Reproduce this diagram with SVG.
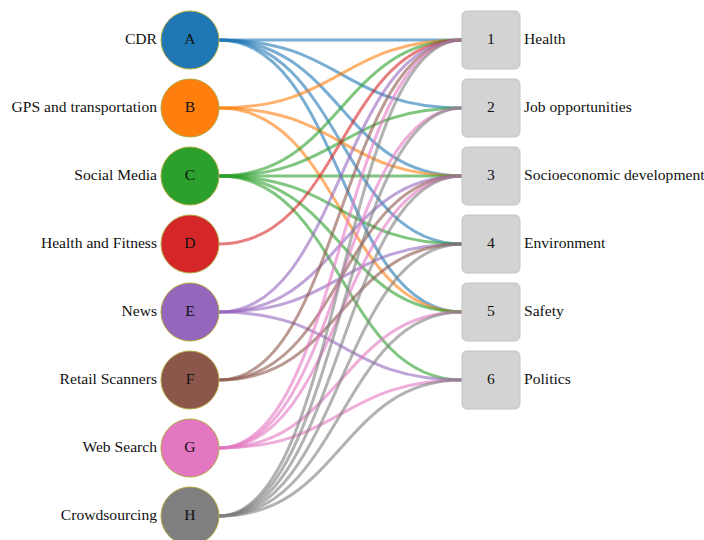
<svg xmlns="http://www.w3.org/2000/svg" width="704" height="540" viewBox="0 0 704 540">
<style>
text{font-family:"Liberation Serif","Times New Roman",serif;font-size:15.6px;fill:#111;transform:translateY(-1.5px)}
.lab{text-anchor:end;dominant-baseline:central}
.in{text-anchor:middle;dominant-baseline:central}
.rl{text-anchor:start;dominant-baseline:central}
.n circle{stroke:#b0a640;stroke-width:1}
.t rect{fill:#d3d3d3;stroke:#c4c4c4;stroke-width:1}
.links path{fill:none;stroke-width:3;stroke-opacity:0.6}
.a{stroke:#1f77b4}.b{stroke:#ff7f0e}.c{stroke:#2ca02c}.d{stroke:#d62728}
.e{stroke:#9467bd}.f{stroke:#8c564b}.g{stroke:#e377c2}.h{stroke:#7f7f7f}
</style>
<rect width="704" height="540" fill="#fff"/>
<g id="connectors" class="links">
<path class="a" d="M219,40 C341,40 341,40 462,40"/>
<path class="a" d="M219,40 C341,40 341,108 462,108"/>
<path class="a" d="M219,40 C341,40 341,176 462,176"/>
<path class="a" d="M219,40 C341,40 341,244 462,244"/>
<path class="a" d="M219,40 C341,40 341,312 462,312"/>
<path class="b" d="M219,108 C341,108 341,40 462,40"/>
<path class="b" d="M219,108 C341,108 341,176 462,176"/>
<path class="b" d="M219,108 C341,108 341,312 462,312"/>
<path class="c" d="M219,176 C341,176 341,40 462,40"/>
<path class="c" d="M219,176 C341,176 341,108 462,108"/>
<path class="c" d="M219,176 C341,176 341,176 462,176"/>
<path class="c" d="M219,176 C341,176 341,244 462,244"/>
<path class="c" d="M219,176 C341,176 341,312 462,312"/>
<path class="c" d="M219,176 C341,176 341,380 462,380"/>
<path class="d" d="M219,244 C341,244 341,40 462,40"/>
<path class="e" d="M219,312 C341,312 341,40 462,40"/>
<path class="e" d="M219,312 C341,312 341,176 462,176"/>
<path class="e" d="M219,312 C341,312 341,244 462,244"/>
<path class="e" d="M219,312 C341,312 341,380 462,380"/>
<path class="f" d="M219,380 C341,380 341,40 462,40"/>
<path class="f" d="M219,380 C341,380 341,176 462,176"/>
<path class="f" d="M219,380 C341,380 341,244 462,244"/>
<path class="g" d="M219,448 C341,448 341,40 462,40"/>
<path class="g" d="M219,448 C341,448 341,108 462,108"/>
<path class="g" d="M219,448 C341,448 341,176 462,176"/>
<path class="g" d="M219,448 C341,448 341,312 462,312"/>
<path class="g" d="M219,448 C341,448 341,380 462,380"/>
<path class="h" d="M219,516 C341,516 341,40 462,40"/>
<path class="h" d="M219,516 C341,516 341,108 462,108"/>
<path class="h" d="M219,516 C341,516 341,176 462,176"/>
<path class="h" d="M219,516 C341,516 341,244 462,244"/>
<path class="h" d="M219,516 C341,516 341,312 462,312"/>
<path class="h" d="M219,516 C341,516 341,380 462,380"/>
</g>
<g id="node-A" class="n"><circle cx="190" cy="40" r="29" fill="#1f77b4"/><text class="in" x="190" y="40">A</text><text class="lab" x="157" y="40">CDR</text></g>
<g id="node-B" class="n"><circle cx="190" cy="108" r="29" fill="#ff7f0e"/><text class="in" x="190" y="108">B</text><text class="lab" x="157" y="108">GPS and transportation</text></g>
<g id="node-C" class="n"><circle cx="190" cy="176" r="29" fill="#2ca02c"/><text class="in" x="190" y="176">C</text><text class="lab" x="157" y="176">Social Media</text></g>
<g id="node-D" class="n"><circle cx="190" cy="244" r="29" fill="#d62728"/><text class="in" x="190" y="244">D</text><text class="lab" x="157" y="244">Health and Fitness</text></g>
<g id="node-E" class="n"><circle cx="190" cy="312" r="29" fill="#9467bd"/><text class="in" x="190" y="312">E</text><text class="lab" x="157" y="312">News</text></g>
<g id="node-F" class="n"><circle cx="190" cy="380" r="29" fill="#8c564b"/><text class="in" x="190" y="380">F</text><text class="lab" x="157" y="380">Retail Scanners</text></g>
<g id="node-G" class="n"><circle cx="190" cy="448" r="29" fill="#e377c2"/><text class="in" x="190" y="448">G</text><text class="lab" x="157" y="448">Web Search</text></g>
<g id="node-H" class="n"><circle cx="190" cy="516" r="29" fill="#7f7f7f"/><text class="in" x="190" y="516">H</text><text class="lab" x="157" y="516">Crowdsourcing</text></g>
<g id="node-1" class="t"><rect x="462" y="11" width="58" height="58" rx="5"/><text class="in" x="491" y="40">1</text><text class="rl" x="524" y="40">Health</text></g>
<g id="node-2" class="t"><rect x="462" y="79" width="58" height="58" rx="5"/><text class="in" x="491" y="108">2</text><text class="rl" x="524" y="108">Job opportunities</text></g>
<g id="node-3" class="t"><rect x="462" y="147" width="58" height="58" rx="5"/><text class="in" x="491" y="176">3</text><text class="rl" x="524" y="176">Socioeconomic development</text></g>
<g id="node-4" class="t"><rect x="462" y="215" width="58" height="58" rx="5"/><text class="in" x="491" y="244">4</text><text class="rl" x="524" y="244">Environment</text></g>
<g id="node-5" class="t"><rect x="462" y="283" width="58" height="58" rx="5"/><text class="in" x="491" y="312">5</text><text class="rl" x="524" y="312">Safety</text></g>
<g id="node-6" class="t"><rect x="462" y="351" width="58" height="58" rx="5"/><text class="in" x="491" y="380">6</text><text class="rl" x="524" y="380">Politics</text></g>
</svg>
